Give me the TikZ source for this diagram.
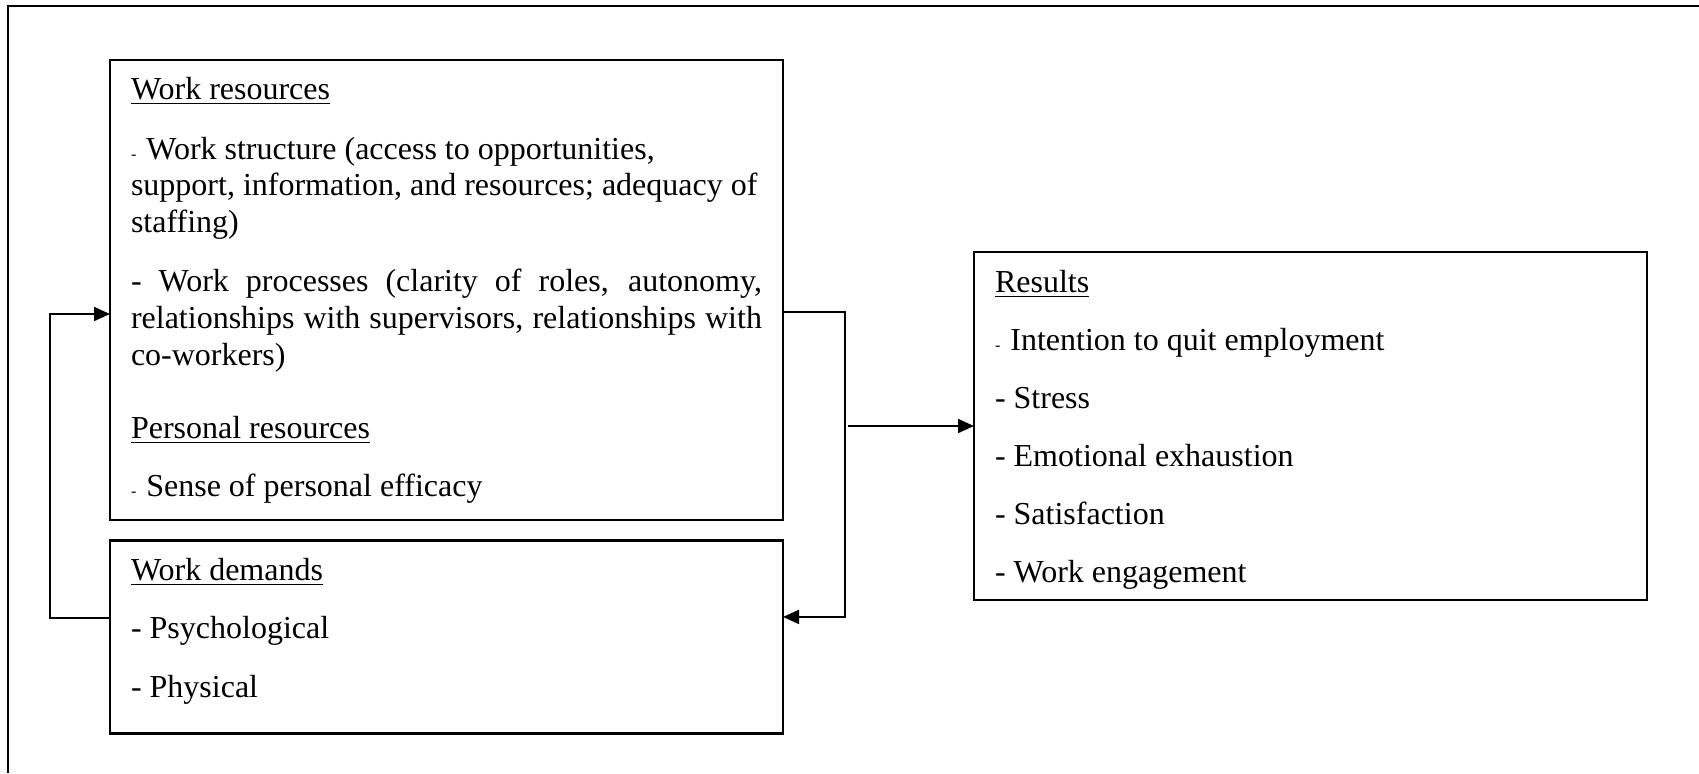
\documentclass[tikz,border=0pt]{standalone}
\usepackage{fontspec}
\setmainfont{Liberation Serif}
\usetikzlibrary{arrows.meta}
\newlength\jw \setlength\jw{216.9pt}
\newcommand\smalldash{{\fontsize{5.5}{6}\selectfont -}\kern0.7pt\ }
\begin{document}
\begin{tikzpicture}[x=0.34375pt,y=-0.34375pt,
		font=\fontsize{11}{12.65}\selectfont,
		box/.style={draw,line width=0.9pt,inner sep=0pt,outer sep=0pt,minimum width=231.34pt},
		txt/.style={anchor=base west,inner sep=0pt,outer sep=0pt},
		arrow/.style={line width=0.7pt,-{Triangle[length=5.5pt,width=4.8pt]}}]
		\useasboundingbox (0,0) rectangle (1699,773);
		\draw[line width=0.9pt] (1699,6) -- (8,6) -- (8,773);
		\node[box,minimum height=158.13pt] (res) at ( 446.5,290) {};
		\node[box,minimum height=66.34pt]  (dem) at ( 446.5,637) {};
		\node[box,minimum height=119.63pt] (out) at (1310.5,426) {};
		\path
			  (131,99) node[txt] (wrHead) {\underline{Work resources}}
			++(0,60)   node[txt] (wsA)    {\smalldash Work structure (access to opportunities,}
			++(0,36.5) node[txt] (wsB)    {support, information, and resources; adequacy of}
			++(0,36.5) node[txt] (wsC)    {staffing)}
			++(0,59)   node[txt] (wpA)    {\makebox[\jw][s]{- Work processes (clarity of roles, autonomy,}}
			++(0,37)   node[txt] (wpB)    {\makebox[\jw][s]{relationships with supervisors, relationships with}}
			++(0,37)   node[txt] (wpC)    {co-workers)}
			++(0,73)   node[txt] (prHead) {\underline{Personal resources}}
			++(0,58)   node[txt] (prEff)  {\smalldash Sense of personal efficacy}
		;
		\path
			  (131,580) node[txt] (wdHead) {\underline{Work demands}}
			++(0,58)    node[txt] (wdPsy)  {- Psychological}
			++(0,59)    node[txt] (wdPhy)  {- Physical}
		;
		\path
			  (995,292) node[txt] (rsHead) {\underline{Results}}
			++(0,58)    node[txt] (rsQuit) {\smalldash Intention to quit employment}
			++(0,58)    node[txt] (rsStr)  {- Stress}
			++(0,58)    node[txt] (rsExh)  {- Emotional exhaustion}
			++(0,58)    node[txt] (rsSat)  {- Satisfaction}
			++(0,58)    node[txt] (rsEng)  {- Work engagement}
		;
		\draw[arrow] ([yshift=6.5pt]dem.west)  -- ++(-60,0) |- ([yshift=-8.25pt]res.west);
		\draw[arrow] ([yshift=-7.56pt]res.east) -- ++(62,0) coordinate (fork) |- ([yshift=6.9pt]dem.east);
		\draw[arrow] ([xshift=1pt]out.west -| fork) -- (out.west);
	\end{tikzpicture}
\end{document}
